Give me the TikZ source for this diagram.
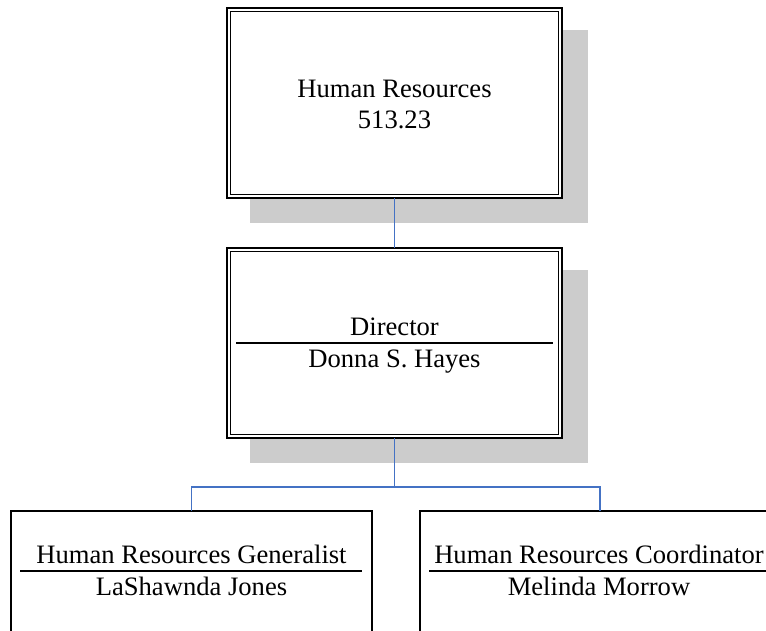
\documentclass[tikz,border=0pt]{standalone}
\usepackage{fontspec}
\setmainfont{Liberation Serif}
\definecolor{shadowgray}{RGB}{204,204,204}
\definecolor{linkblue}{RGB}{68,114,196}
\begin{document}
\begin{tikzpicture}[x=1pt,y=-1pt,
  bigbox/.style={draw=black,line width=2pt,fill=white,minimum width=335pt,minimum height=190pt,inner sep=0pt,outer sep=0pt},
  smallbox/.style={draw=black,line width=2pt,fill=white,minimum width=361pt,minimum height=170pt,inner sep=0pt,outer sep=0pt},
  lbl/.style={font=\fontsize{26.6}{31}\selectfont,inner sep=0pt,anchor=base},
  link/.style={draw=linkblue,line width=1.5pt},
  rulel/.style={draw=black,line width=1.5pt},
  shadowbox/.style={fill=shadowgray}]
\useasboundingbox (0,0) rectangle (766,630);
\clip (0,0) rectangle (766,630);
\fill[white] (0,0) rectangle (766,630);

% shadows
\fill[shadowgray] (250,30) rectangle (588,223);
\fill[shadowgray] (250,270) rectangle (588,463);

% top box
\node[bigbox] (top) at (394.5,103) {};
\draw[line width=1.3pt] ([shift={(3.3,3.3)}]top.north west) rectangle ([shift={(-3.3,-3.3)}]top.south east);
\node[lbl] (t1) at (394.5,97) {Human Resources};
\node[lbl] (t2) at (394.5,128) {513.23};

% middle box
\node[bigbox] (mid) at (394.5,343) {};
\draw[line width=1.3pt] ([shift={(3.3,3.3)}]mid.north west) rectangle ([shift={(-3.3,-3.3)}]mid.south east);
\node[lbl] (m1) at (394.5,335) {Director};
\draw[rulel] (236,343) -- (553,343);
\node[lbl] (m2) at (394.5,367) {Donna S. Hayes};

% bottom boxes
\node[smallbox,anchor=north] (gen) at (191.5,511) {};
\node[lbl] (g1) at (191.5,563) {Human Resources Generalist};
\draw[rulel] (20,571) -- (362,571);
\node[lbl] (g2) at (191.5,595) {LaShawnda Jones};

\node[smallbox,anchor=north] (crd) at (600,511) {};
\node[lbl] (c1) at (599,563) {Human Resources Coordinator};
\draw[rulel] (429,571) -- (772,571);
\node[lbl] (c2) at (599,595) {Melinda Morrow};

% connectors
\coordinate (bus) at (394.5,487);
\draw[link] (top.south) -- (mid.north);
\draw[link] (mid.south) -- (bus);
\draw[link] (bus) -| (gen.north);
\draw[link] (bus) -| (crd.north);
\end{tikzpicture}
\end{document}
